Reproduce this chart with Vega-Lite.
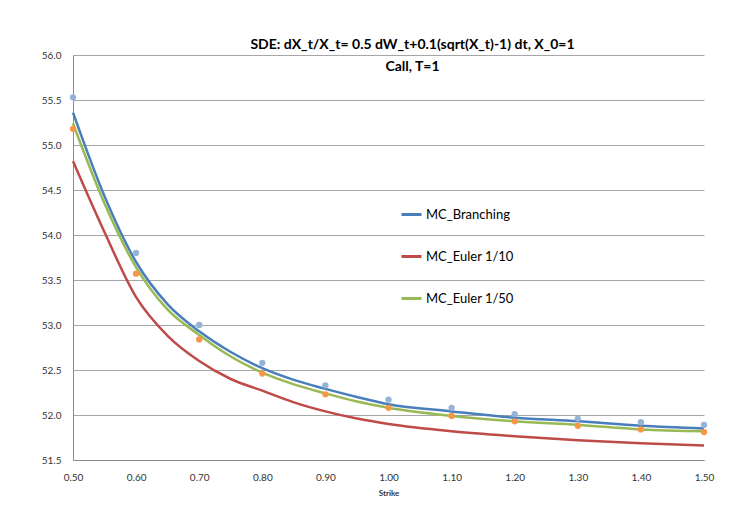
{
  "$schema": "https://vega.github.io/schema/vega-lite/v6.json",
  "width": 631,
  "height": 405,
  "autosize": {"type": "none"},
  "padding": {"left": 73, "top": 55, "right": 33, "bottom": 56},
  "background": "white",
  "config": {
    "font": "Lato",
    "view": {"stroke": null},
    "axis": {"labelFont": "Lato", "labelColor": "#333333", "labelFontSize": 10, "ticks": false, "domainColor": "#8c8c8c", "domainWidth": 1}
  },
  "title": {
    "text": ["SDE: dX_t/X_t= 0.5 dW_t+0.1(sqrt(X_t)-1) dt, X_0=1", "Call, T=1"],
    "font": "Lato",
    "fontSize": 14,
    "fontWeight": "bold",
    "color": "#000000",
    "lineHeight": 22,
    "anchor": "middle",
    "dx": 24,
    "offset": -24
  },
  "datasets": {
    "lines": [
      {"strike": 0.50, "value": 55.36, "series": "MC_Branching"},
      {"strike": 0.55, "value": 54.43, "series": "MC_Branching"},
      {"strike": 0.60, "value": 53.70, "series": "MC_Branching"},
      {"strike": 0.65, "value": 53.23, "series": "MC_Branching"},
      {"strike": 0.70, "value": 52.93, "series": "MC_Branching"},
      {"strike": 0.75, "value": 52.70, "series": "MC_Branching"},
      {"strike": 0.80, "value": 52.52, "series": "MC_Branching"},
      {"strike": 0.85, "value": 52.39, "series": "MC_Branching"},
      {"strike": 0.90, "value": 52.29, "series": "MC_Branching"},
      {"strike": 0.95, "value": 52.20, "series": "MC_Branching"},
      {"strike": 1.00, "value": 52.12, "series": "MC_Branching"},
      {"strike": 1.10, "value": 52.04, "series": "MC_Branching"},
      {"strike": 1.20, "value": 51.97, "series": "MC_Branching"},
      {"strike": 1.30, "value": 51.93, "series": "MC_Branching"},
      {"strike": 1.40, "value": 51.88, "series": "MC_Branching"},
      {"strike": 1.50, "value": 51.85, "series": "MC_Branching"},
      {"strike": 0.50, "value": 54.82, "series": "MC_Euler 1/10"},
      {"strike": 0.55, "value": 54.03, "series": "MC_Euler 1/10"},
      {"strike": 0.60, "value": 53.31, "series": "MC_Euler 1/10"},
      {"strike": 0.65, "value": 52.88, "series": "MC_Euler 1/10"},
      {"strike": 0.70, "value": 52.60, "series": "MC_Euler 1/10"},
      {"strike": 0.75, "value": 52.40, "series": "MC_Euler 1/10"},
      {"strike": 0.80, "value": 52.27, "series": "MC_Euler 1/10"},
      {"strike": 0.85, "value": 52.14, "series": "MC_Euler 1/10"},
      {"strike": 0.90, "value": 52.04, "series": "MC_Euler 1/10"},
      {"strike": 0.95, "value": 51.96, "series": "MC_Euler 1/10"},
      {"strike": 1.00, "value": 51.90, "series": "MC_Euler 1/10"},
      {"strike": 1.10, "value": 51.82, "series": "MC_Euler 1/10"},
      {"strike": 1.20, "value": 51.765, "series": "MC_Euler 1/10"},
      {"strike": 1.30, "value": 51.72, "series": "MC_Euler 1/10"},
      {"strike": 1.40, "value": 51.685, "series": "MC_Euler 1/10"},
      {"strike": 1.50, "value": 51.66, "series": "MC_Euler 1/10"},
      {"strike": 0.50, "value": 55.24, "series": "MC_Euler 1/50"},
      {"strike": 0.55, "value": 54.35, "series": "MC_Euler 1/50"},
      {"strike": 0.60, "value": 53.64, "series": "MC_Euler 1/50"},
      {"strike": 0.65, "value": 53.17, "series": "MC_Euler 1/50"},
      {"strike": 0.70, "value": 52.89, "series": "MC_Euler 1/50"},
      {"strike": 0.75, "value": 52.65, "series": "MC_Euler 1/50"},
      {"strike": 0.80, "value": 52.47, "series": "MC_Euler 1/50"},
      {"strike": 0.85, "value": 52.34, "series": "MC_Euler 1/50"},
      {"strike": 0.90, "value": 52.24, "series": "MC_Euler 1/50"},
      {"strike": 0.95, "value": 52.15, "series": "MC_Euler 1/50"},
      {"strike": 1.00, "value": 52.08, "series": "MC_Euler 1/50"},
      {"strike": 1.10, "value": 51.99, "series": "MC_Euler 1/50"},
      {"strike": 1.20, "value": 51.93, "series": "MC_Euler 1/50"},
      {"strike": 1.30, "value": 51.89, "series": "MC_Euler 1/50"},
      {"strike": 1.40, "value": 51.84, "series": "MC_Euler 1/50"},
      {"strike": 1.50, "value": 51.82, "series": "MC_Euler 1/50"}
    ],
    "dots": [
      {"strike": 0.5, "value": 55.53, "series": "Branching"},
      {"strike": 0.6, "value": 53.80, "series": "Branching"},
      {"strike": 0.7, "value": 53.00, "series": "Branching"},
      {"strike": 0.8, "value": 52.58, "series": "Branching"},
      {"strike": 0.9, "value": 52.33, "series": "Branching"},
      {"strike": 1.0, "value": 52.17, "series": "Branching"},
      {"strike": 1.1, "value": 52.08, "series": "Branching"},
      {"strike": 1.2, "value": 52.01, "series": "Branching"},
      {"strike": 1.3, "value": 51.96, "series": "Branching"},
      {"strike": 1.4, "value": 51.92, "series": "Branching"},
      {"strike": 1.5, "value": 51.89, "series": "Branching"},
      {"strike": 0.5, "value": 55.18, "series": "Euler"},
      {"strike": 0.6, "value": 53.57, "series": "Euler"},
      {"strike": 0.7, "value": 52.84, "series": "Euler"},
      {"strike": 0.8, "value": 52.46, "series": "Euler"},
      {"strike": 0.9, "value": 52.23, "series": "Euler"},
      {"strike": 1.0, "value": 52.08, "series": "Euler"},
      {"strike": 1.1, "value": 51.99, "series": "Euler"},
      {"strike": 1.2, "value": 51.93, "series": "Euler"},
      {"strike": 1.3, "value": 51.88, "series": "Euler"},
      {"strike": 1.4, "value": 51.84, "series": "Euler"},
      {"strike": 1.5, "value": 51.81, "series": "Euler"}
    ]
  },
  "layer": [
    {
      "data": {"name": "lines"},
      "mark": {"type": "line", "strokeWidth": 2.5, "interpolate": "monotone"},
      "encoding": {
        "x": {
          "field": "strike", "type": "quantitative",
          "scale": {"domain": [0.5, 1.5], "nice": false, "zero": false},
          "axis": {"title": "Strike", "titleFont": "Lato", "titleFontSize": 8, "titleFontWeight": "bold", "titleColor": "#333333", "titlePadding": 7, "format": ".2f", "values": [0.5, 0.6, 0.7, 0.8, 0.9, 1.0, 1.1, 1.2, 1.3, 1.4, 1.5], "grid": false, "labelPadding": 12, "labelFlush": false}
        },
        "y": {
          "field": "value", "type": "quantitative",
          "scale": {"domain": [51.5, 56], "nice": false, "zero": false},
          "axis": {"title": null, "format": ".1f", "values": [51.5, 52, 52.5, 53, 53.5, 54, 54.5, 55, 55.5, 56], "grid": true, "gridColor": "#a6a6a6", "gridWidth": 1, "labelPadding": 12}
        },
        "color": {
          "field": "series", "type": "nominal",
          "scale": {"domain": ["MC_Branching", "MC_Euler 1/10", "MC_Euler 1/50"], "range": ["#4a7ebb", "#be4b48", "#98b954"]},
          "legend": {
            "title": null, "orient": "none", "legendX": 327, "legendY": 148,
            "symbolType": "stroke", "symbolSize": 400, "symbolStrokeWidth": 3,
            "labelFont": "Lato", "labelFontSize": 13, "labelColor": "#000000",
            "rowPadding": 23, "labelOffset": 3, "padding": 0
          }
        }
      }
    },
    {
      "data": {"name": "dots"},
      "mark": {"type": "point", "filled": true, "size": 40, "opacity": 1},
      "encoding": {
        "x": {"field": "strike", "type": "quantitative"},
        "y": {"field": "value", "type": "quantitative"},
        "color": {
          "field": "series", "type": "nominal",
          "scale": {"domain": ["Branching", "Euler"], "range": ["#95b3d7", "#f79646"]},
          "legend": null
        }
      }
    }
  ],
  "resolve": {"scale": {"color": "independent"}}
}
